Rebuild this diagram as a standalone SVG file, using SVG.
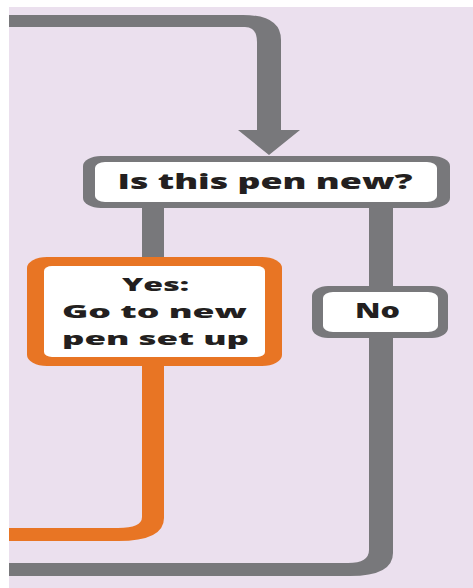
<svg xmlns="http://www.w3.org/2000/svg" width="473" height="588" viewBox="0 0 473 588">
<style>
.gray{fill:#78787b}
.orange{fill:#e87524}
.white{fill:#ffffff}
.lbl{font-family:"Open Sans","Liberation Sans",sans-serif;font-weight:800;fill:#231f20;text-anchor:middle}
</style>
<rect x="0" y="0" width="473" height="588" fill="#ffffff"/>
<rect x="9" y="7" width="464" height="581" fill="#ebe0ee"/>
<g id="connectors">
<path class="gray" d="M9,15 H243 Q281,15 281,40 V130 H300 L269,155 L238,130 H257 V42 Q257,27 245,27 H9 Z"/>
<rect class="gray" x="142" y="205" width="22" height="54"/>
<rect class="gray" x="369" y="205" width="24" height="83"/>
<path class="gray" d="M369,336 V550 Q369,563 348,563 H9 V576 H350 Q393,576 393,553 V336 Z"/>
<path class="orange" d="M142,364 V517 Q142,528 118,528 H9 V541 H118 Q164,541 164,518 V364 Z"/>
</g>
<g id="node-question">
<rect class="gray" x="83" y="156" width="367" height="52" rx="18" ry="10"/>
<rect class="white" x="95" y="162" width="342" height="40" rx="10" ry="6"/>
<text class="lbl" x="265" y="188.5" font-size="20.5" textLength="295" lengthAdjust="spacingAndGlyphs">Is this pen new?</text>
</g>
<g id="node-yes">
<rect class="orange" x="27" y="257" width="255" height="109" rx="20" ry="11"/>
<rect class="white" x="44" y="266" width="221" height="91" rx="8" ry="5"/>
<text class="lbl" x="155.5" y="291" font-size="18" textLength="67" lengthAdjust="spacingAndGlyphs">Yes:</text>
<text class="lbl" x="154.5" y="318" font-size="18" textLength="185" lengthAdjust="spacingAndGlyphs">Go to new</text>
<text class="lbl" x="155.5" y="345" font-size="18" textLength="187" lengthAdjust="spacingAndGlyphs">pen set up</text>
</g>
<g id="node-no">
<rect class="gray" x="312" y="286" width="136" height="52" rx="16" ry="10"/>
<rect class="white" x="323" y="292" width="115" height="40" rx="10" ry="6"/>
<text class="lbl" x="377.5" y="317.5" font-size="20.5" textLength="45" lengthAdjust="spacingAndGlyphs">No</text>
</g>
</svg>
